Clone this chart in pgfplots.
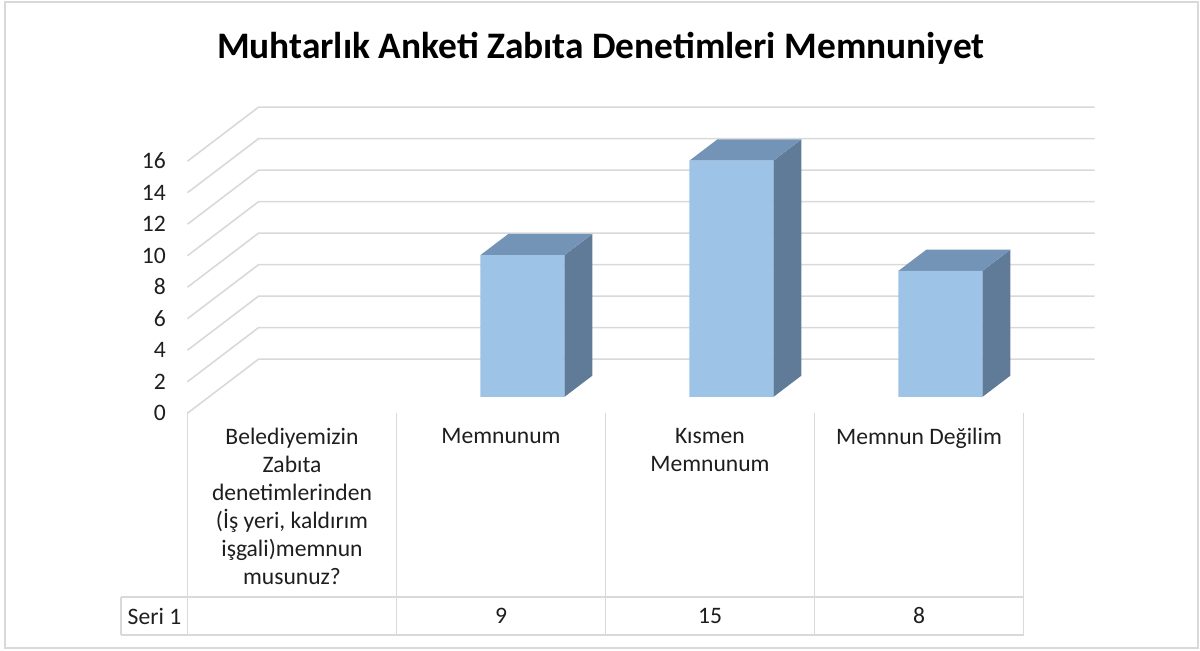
\documentclass[border=0pt]{standalone}
\usepackage{fontspec}
\setmainfont{Carlito}
\usepackage{pgfplots}
\usepackage{pgfplotstable}
\pgfplotsset{compat=1.18}
\definecolor{barfront}{RGB}{157,195,230}
\definecolor{bartop}{RGB}{116,148,183}
\definecolor{barside}{RGB}{96,123,152}
\definecolor{gridc}{RGB}{217,217,217}
\definecolor{txt}{RGB}{30,30,30}

\pgfplotstableread{
x v
1 9
2 15
3 8
}\bardata

\begin{document}
\begin{tikzpicture}
\useasboundingbox (-93.75pt,-119pt) rectangle (506.25pt,206.5pt);
\draw[gridc, line width=0.9pt] (-91.25pt,-117.5pt) rectangle (505.25pt,205.5pt);
\begin{axis}[
  x=104.5pt, y=7.875pt,
  xmin=-0.5, xmax=3.5, ymin=-1.016, ymax=20,
  scale only axis, clip=false,
  axis line style={draw=none},
  major tick length=0pt,
  tick style={draw=none},
  ytick={0,2,...,16},
  /pgf/number format/assume math mode=true,
  yticklabel style={font=\fontsize{11.8}{14}\selectfont, text=txt, anchor=east, xshift=-7.3pt, yshift=-8pt},
  xtick={0,1,2,3},
  xticklabels={{Belediyemizin\\Zabıta\\denetimlerinden\\(İş yeri, kaldırım\\işgali)memnun\\musunuz?},{Memnunum},{Kısmen\\Memnunum},{Memnun Değilim}},
  xticklabel style={font=\fontsize{11.8}{14}\selectfont, text=txt, align=center, anchor=north, yshift=-4pt},
]
% gridlines: side wall and back wall
\pgfplotsinvokeforeach{0,2,...,16}{
  \pgfmathsetmacro\ya{#1-1.0286}
  \pgfmathsetmacro\yb{#1+2.4}
  \edef\tmp{\noexpand\draw[gridc, line width=0.8pt] (axis cs:-0.5,\ya) -- (axis cs:-0.1603,\yb) -- (axis cs:3.8397,\yb);}\tmp
}
% data table lines
\draw[gridc, line width=0.8pt] (axis cs:-0.818,-12.698) -- (axis cs:3.5,-12.698);
\draw[gridc, line width=0.8pt] (axis cs:-0.818,-15.111) -- (axis cs:3.5,-15.111);
\draw[gridc, line width=0.8pt] (axis cs:-0.818,-12.698) -- (axis cs:-0.818,-15.111);
\pgfplotsinvokeforeach{-0.5,0.5,1.5,2.5,3.5}{
  \draw[gridc, line width=0.8pt] (axis cs:#1,-1.016) -- (axis cs:#1,-15.111);
}
\node[font=\fontsize{11.8}{14}\selectfont, text=txt] at (axis cs:-0.658,-13.905) {Seri 1};
% bar side and top faces, value cells
\pgfplotsinvokeforeach{0,1,2}{
  \pgfplotstablegetelem{#1}{x}\of\bardata \pgfmathsetmacro\bx{\pgfplotsretval}
  \pgfplotstablegetelem{#1}{v}\of\bardata \pgfmathsetmacro\bv{\pgfplotsretval}
  \pgfmathsetmacro\L{\bx+0.1019-0.201}
  \pgfmathsetmacro\R{\bx+0.1019+0.201}
  \pgfmathsetmacro\Ld{\L+0.1339}
  \pgfmathsetmacro\Rd{\R+0.1339}
  \pgfmathsetmacro\vd{\bv+1.351}
  \pgfmathtruncatemacro\vlab{\bv}
  \edef\tmp{%
    \noexpand\addplot[fill=barside, draw=none, forget plot] coordinates {(\R,0) (\Rd,1.351) (\Rd,\vd) (\R,\bv)} --cycle;
    \noexpand\addplot[fill=bartop, draw=none, forget plot] coordinates {(\L,\bv) (\R,\bv) (\Rd,\vd) (\Ld,\vd)} --cycle;
    \noexpand\node[font=\noexpand\fontsize{11.8}{14}\noexpand\selectfont, text=txt] at (axis cs:\bx,-13.905) {\vlab};
  }\tmp
}
% bar front faces
\addplot[ybar, bar width=42pt, bar shift=10.65pt, fill=barfront, draw=none] table[x=x, y=v]{\bardata};
% title
\node[anchor=base, font=\fontsize{18.7}{22}\selectfont\bfseries, text=black] at (axis cs:1.478,21.52) {Muhtarlık Anketi Zabıta Denetimleri Memnuniyet};
\end{axis}
\end{tikzpicture}
\end{document}
